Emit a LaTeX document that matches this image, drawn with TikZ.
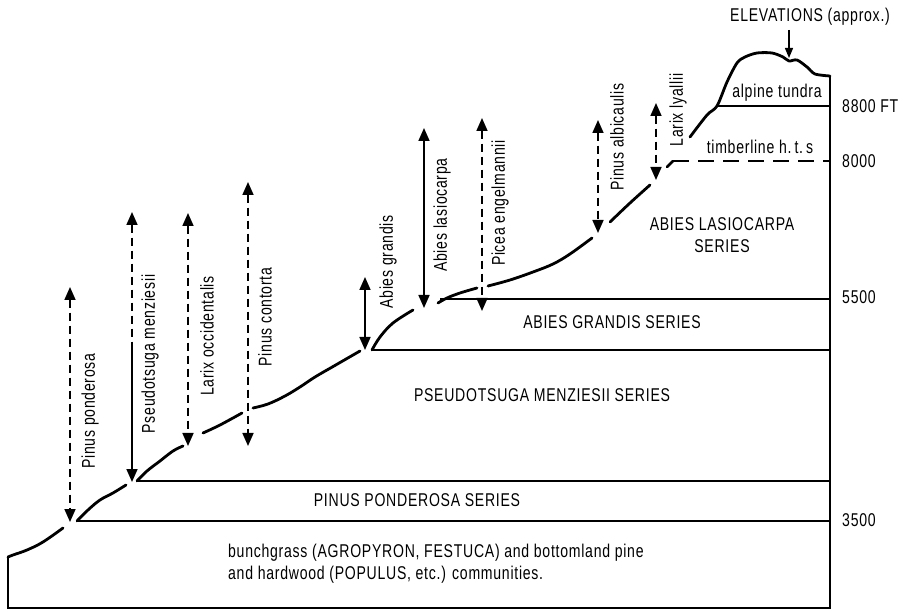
\documentclass[tikz,border=0pt]{standalone}
\usepackage{fontspec}
\setmainfont{Liberation Sans}[FakeStretch=0.76,LetterSpace=4]
\usetikzlibrary{arrows.meta,positioning}

\begin{document}
\begin{tikzpicture}[x=1pt,y=-1pt,>={Triangle[width=11pt,length=13pt]},
  every node/.style={font=\fontsize{18.5}{22}\selectfont,inner sep=0pt},
  ground/.style={line width=2.8pt,line cap=round,line join=round},
  zone/.style={line width=1.6pt},
  spanline/.style={line width=1.7pt},
  spandash/.style={spanline,dash pattern=on 8pt off 5pt},
  species/.style={rotate=90},
  series/.style={align=center},
  elev/.style={anchor=west}]

\useasboundingbox (0,0) rectangle (903,612);

% outer frame and series boundaries
\draw[zone] (830,76) -- (830,608) -- (8,608) -- (8,557);
\draw[zone] (77,521) -- (830,521);
\draw[zone] (137,481) -- (830,481);
\draw[zone] (372,350) -- (830,350);
\draw[zone] (440,299) -- (830,299);
\draw[zone,dash pattern=on 16pt off 9pt] (673,161) -- (830,161);
\draw[zone] (717,106) -- (830,106);

% ground profile, broken where the arrows reach it
\draw[ground] plot[smooth,tension=0.6] coordinates {(8,557) (13,555) (27,550) (43,542) (63,528)};
\draw[ground] plot[smooth,tension=0.6] coordinates {(77,521) (88,510) (100,500) (113,493) (126,485)};
\draw[ground] plot[smooth,tension=0.6] coordinates {(137,481) (147,471) (160,461) (173,451) (183,446)};
\draw[ground] plot[smooth,tension=0.6] coordinates {(203,433) (220,425) (242,413)};
\draw[ground] plot[smooth,tension=0.6] coordinates {(253,408) (268,404) (285,396) (300,387) (315,377) (334,366) (360,351)};
\draw[ground] plot[smooth,tension=0.6] coordinates {(372,350) (380,337) (393,323) (413,310)};
\draw[ground] plot[smooth,tension=0.6] coordinates {(438,303) (447,298) (460,293) (477,288)};
\draw[ground] plot[smooth,tension=0.6] coordinates {(488,286) (510,280) (533,272) (553,264) (570,254) (592,238)};
\draw[ground] plot[smooth,tension=0.6] coordinates {(610,222) (630,203) (650,185)};
\draw[ground] (667,167) -- (673,161);
\draw[ground] plot[smooth,tension=0.5] coordinates {(690,137) (707,115) (717,106) (727,82) (737,63) (745,57) (757,53) (772,53) (783,57) (789,61) (797,60) (807,67) (815,74) (830,76)};

% species ranges
\coordinate (ppo-t) at (70,287);  \coordinate (ppo-b) at (70,522);
\coordinate (pme-t) at (132,212); \coordinate (pme-m) at (132,348); \coordinate (pme-b) at (132,482);
\coordinate (loc-t) at (188,213); \coordinate (loc-b) at (188,446);
\coordinate (pco-t) at (248,182); \coordinate (pco-b) at (248,446);
\coordinate (agr-t) at (365,277); \coordinate (agr-b) at (365,350);
\coordinate (ala-t) at (424,128); \coordinate (ala-b) at (424,308);
\coordinate (pen-t) at (482,118); \coordinate (pen-b) at (482,311);
\coordinate (pal-t) at (598,120); \coordinate (pal-b) at (598,233);
\coordinate (lly-t) at (656,103); \coordinate (lly-b) at (656,180);

\draw[spandash,<->] (ppo-t) -- (ppo-b);
\draw[spandash,<-] (pme-t) -- (pme-m);
\draw[spanline,->] (pme-m) -- (pme-b);
\draw[spandash,<->] (loc-t) -- (loc-b);
\draw[spandash,<->] (pco-t) -- (pco-b);
\draw[spanline,<->] (agr-t) -- (agr-b);
\draw[spanline,<->] (ala-t) -- (ala-b);
\draw[spandash,<->] (pen-t) -- (pen-b);
\draw[spandash,<->] (pal-t) -- (pal-b);
\draw[spandash,<->] (lly-t) -- (lly-b);

\node[species] (ppo) at (90,411) {Pinus ponderosa};
\node[species] (pme) at (150,354) {Pseudotsuga menziesii};
\node[species] (loc) at (207,336) {Larix occidentalis};
\node[species] (pco) at (265,317) {Pinus contorta};
\node[species] (agr) at (388,262) {Abies grandis};
\node[species] (ala) at (442,215) {Abies lasiocarpa};
\node[species] (pen) at (500,203) {Picea engelmannii};
\node[species] (pal) at (617,137) {Pinus albicaulis};
\node[species] (lly) at (678,110) {Larix lyallii};

% series names
\node[series] (tundra) at (777,93) {alpine tundra};
\node[series] (timber) at (760,147) {timberline h.\,t.\,s};
\node[series] (abla) at (722,235) {ABIES LASIOCARPA\\SERIES};
\node[series] (abgr) at (612,322) {ABIES GRANDIS SERIES};
\node[series] (psme) at (542,395) {PSEUDOTSUGA MENZIESII SERIES};
\node[series] (pipo) at (417,500) {PINUS PONDEROSA SERIES};
\node[align=left,anchor=west] (grass) at (228,564) {bunchgrass (AGROPYRON, FESTUCA) and bottomland pine\\and hardwood (POPULUS, etc.) communities.};

% elevations
\node (elevations) at (810,17) {ELEVATIONS (approx.)};
\coordinate (peak) at (789,58);
\draw[line width=1.3pt,-{Triangle[width=8pt,length=10pt]}] (peak |- elevations.south) ++(0,4) -- (peak);
\node[elev] (e8800) at (842,106) {8800 FT};
\node[elev] (e8000) at (842,161) {8000};
\node[elev] (e5500) at (842,297) {5500};
\node[elev] (e3500) at (842,520) {3500};
\end{tikzpicture}
\end{document}
